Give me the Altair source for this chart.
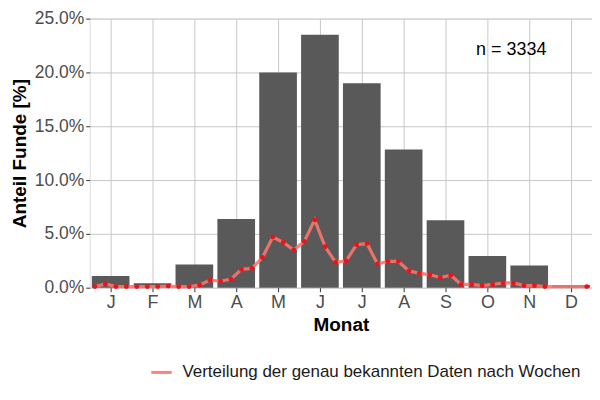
import pandas as pd
import altair as alt

months = ["J", "F", "M", "A", "M", "J", "J", "A", "S", "O", "N", "D"]
month_share = [1.09, 0.42, 2.15, 6.39, 20.0, 23.5, 19.0, 12.85, 6.27, 2.94, 2.06, 0.25]

# 4 slots per month, None = no data in that week
week_share = [
    0.1, 0.35, 0.1, 0.1,
    0.1, 0.1, 0.1, 0.15,
    0.1, 0.1, 0.25, 0.7,
    0.6, 0.8, 1.7, 1.8,
    2.8, 4.7, 4.2, 3.5,
    4.3, 6.3, 3.8, 2.35,
    2.5, 4.0, 4.1, 2.2,
    2.45, 2.45, 1.55, 1.35,
    1.2, 0.95, 1.15, 0.3,
    0.3, 0.2, 0.3, 0.45,
    0.45, 0.2, 0.2, 0.1,
    None, None, None, 0.1,
]
n_total = 3334
line_label = "Verteilung der genau bekannten Daten nach Wochen"

font = "Liberation Sans"

bars = pd.DataFrame({"month": range(1, 13), "share": [v / 100 for v in month_share]})
weeks = pd.DataFrame({"slot": range(len(week_share)), "share": week_share}).dropna()
weeks["share"] = weeks["share"] / 100
weeks["series"] = line_label
note = pd.DataFrame({"x": [10.57], "y": [0.221], "label": [f"n = {n_total}"]})

month_expr = "[" + ",".join(f"'{m}'" for m in months) + "][datum.value - 1]"

x_scale = alt.Scale(domain=[0.5, 12.5], nice=False, zero=False)
y_scale = alt.Scale(domain=[0, 0.25], nice=False)

x_axis = alt.Axis(
    values=list(range(1, 13)), labelExpr=month_expr, title="Monat",
    labelFontSize=18, labelColor="#4d4d4d", labelFont=font, labelPadding=2,
    titleFontSize=19, titleFont=font, titleFontWeight="bold", titleColor="black",
    titlePadding=4, tickSize=4, tickColor="#333333", domain=False,
    gridColor="#c8c8c8", gridWidth=1,
)
y_axis = alt.Axis(
    values=[0, 0.05, 0.1, 0.15, 0.2, 0.25], format=".1%", title="Anteil Funde [%]",
    labelFontSize=17.5, labelColor="#4d4d4d", labelFont=font, labelPadding=2,
    titleFontSize=19, titleFont=font, titleFontWeight="bold", titleColor="black",
    titlePadding=5, tickSize=4, tickColor="#333333", domain=False,
    gridColor="#c8c8c8", gridWidth=1,
)

bar_layer = (
    alt.Chart(bars)
    .transform_calculate(lo="datum.month - 0.45", hi="datum.month + 0.45")
    .mark_rect(color="#595959")
    .encode(
        x=alt.X("lo:Q", scale=x_scale, axis=x_axis),
        x2="hi:Q",
        y=alt.Y("share:Q", scale=y_scale, axis=y_axis),
        y2=alt.datum(0),
    )
)

week_base = alt.Chart(weeks).transform_calculate(
    pos="floor(datum.slot / 4) + 1 + ((datum.slot % 4) - 1.5) / 4"
)

line_layer = week_base.mark_line(strokeWidth=3.2, opacity=0.9).encode(
    x=alt.X("pos:Q", scale=x_scale),
    y=alt.Y("share:Q", scale=y_scale),
    color=alt.Color(
        "series:N",
        scale=alt.Scale(range=["#F8766D"]),
        legend=alt.Legend(
            title=None, orient="none", legendX=60, legendY=343, padding=0,
            symbolType="stroke", symbolSize=420, symbolStrokeWidth=3,
            labelFontSize=17, labelFont=font, labelColor="#1a1a1a", labelOffset=9,
            labelLimit=600,
        ),
    ),
)

point_layer = week_base.mark_circle(size=24, color="#e8141c", opacity=1).encode(
    x=alt.X("pos:Q", scale=x_scale),
    y=alt.Y("share:Q", scale=y_scale),
)

note_layer = alt.Chart(note).mark_text(
    fontSize=18, font=font, color="black", baseline="middle", align="center"
).encode(
    x=alt.X("x:Q", scale=x_scale),
    y=alt.Y("y:Q", scale=y_scale),
    text="label:N",
)

chart = (
    alt.layer(bar_layer, line_layer, point_layer, note_layer)
    .properties(
        width=504, height=270,
        autosize=alt.AutoSizeParams(type="none"),
        padding={"left": 82, "top": 10, "right": 0, "bottom": 96},
    )
    .configure_view(stroke=None)
    .configure(background="white")
)

chart.save("out.html", embed_options={"renderer": "svg", "actions": False})
